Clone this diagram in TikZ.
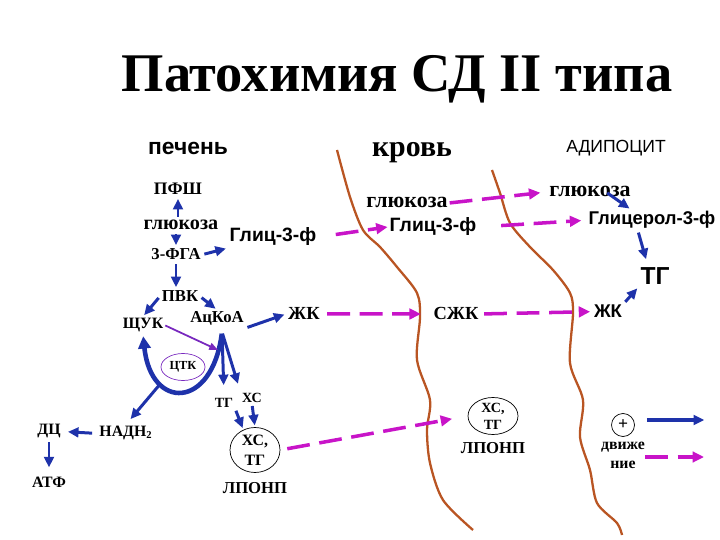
\documentclass[tikz,border=0pt]{standalone}
\usepackage{fontspec}
\setmainfont{Liberation Serif}
\setsansfont{Liberation Sans}
\usetikzlibrary{arrows.meta,positioning,shapes.geometric}

\definecolor{flowblue}{RGB}{30,50,170}
\definecolor{lipidpink}{RGB}{200,20,200}
\definecolor{wallbrown}{RGB}{185,85,35}
\definecolor{tcaviolet}{RGB}{120,40,190}

\begin{document}
\begin{tikzpicture}[
        x=0.02cm, y=-0.02cm,
        inner sep=1pt,
        heading/.style={anchor=base, font=\bfseries\fontsize{31}{36}\selectfont},
        organ/.style={anchor=base, font=\sffamily\bfseries\fontsize{13}{15}\selectfont},
        met/.style={anchor=base, font=\bfseries\fontsize{#1}{#1}\selectfont},
        metsans/.style={anchor=base, font=\sffamily\bfseries\fontsize{#1}{#1}\selectfont},
        lipo/.style={ellipse, draw, thin, align=center, inner sep=0pt},
        flow/.style={draw=flowblue, line width=1.7pt, -{Triangle[length=6pt,width=5.5pt]}, shorten >=1pt, shorten <=1pt},
        transport/.style={draw=lipidpink, line width=2pt, dash pattern=on 13pt off 5.5pt, -{Triangle[length=6.5pt,width=6pt]}},
        wall/.style={draw=wallbrown, line width=1.3pt}
    ]
    \useasboundingbox (0,0) rectangle (720,540);

    % Заголовок
    \node[heading] (title) at (397,92) {Патохимия СД II типа};

    % Ткани
    \node[organ] (liver) at (188,155) {печень};
    \node[met=17] (blood) at (412,157) {кровь};
    \node[anchor=base, font=\sffamily\fontsize{10}{12}\selectfont] (adipo) at (616,153) {АДИПОЦИТ};

    % Печень
    \node[met=10] (pfsh) at (178,195) {ПФШ};
    \node[met=11.5] (lglu) at (181,230) {глюкоза};
    \node[metsans=11] (lgliz) at (273,242) {Глиц-3-ф};
    \node[met=9.5] (fga) at (176,260) {3-ФГА};
    \node[met=9.5] (pvk) at (180,302) {ПВК};
    \node[met=9] (shuk) at (143,329) {ЩУК};
    \node[met=9.5] (acoa) at (217,323) {АцКоА};
    \node[met=10.5] (lfa) at (304,320) {ЖК};
    \node[ellipse, draw=tcaviolet, thin, minimum width=0.88cm, minimum height=0.54cm, inner sep=0pt, font=\bfseries\fontsize{7}{8}\selectfont] (tca) at (183,367) {ЦТК};
    \node[met=8] (ltg) at (224,407) {ТГ};
    \node[met=8] (lchol) at (252,402) {ХС};
    \node[lipo, minimum width=1cm, minimum height=0.9cm, font=\bfseries\fontsize{9}{11.5}\selectfont] (lvldl) at (255,450) {ХС,\\ТГ};
    \node[font=\bfseries\fontsize{9.5}{10}\selectfont, below=4pt of lvldl] (lvldlname) {ЛПОНП};
    \node[met=9] (nadh) at (126,437) {НАДН\textsubscript{2}};
    \node[met=9] (dc) at (49,435) {ДЦ};
    \node[met=9] (atp) at (49,487) {АТФ};

    % Кровь
    \node[met=12.5] (bglu) at (407,208) {глюкоза};
    \node[metsans=11] (bgliz) at (433,232) {Глиц-3-ф};
    \node[met=10.5] (nefa) at (456,320) {СЖК};
    \node[lipo, minimum width=1cm, minimum height=0.74cm, font=\bfseries\fontsize{8}{9.6}\selectfont] (bvldl) at (493,416) {ХС,\\ТГ};
    \node[font=\bfseries\fontsize{9.5}{10}\selectfont, below=3pt of bvldl] (bvldlname) {ЛПОНП};

    % Адипоцит
    \node[met=12.5] (aglu) at (590,197) {глюкоза};
    \node[metsans=10.5] (aglyc) at (652,225) {Глицерол-3-ф};
    \node[metsans=14] (atg) at (655,285) {ТГ};
    \node[metsans=10.5] (afa) at (608,318) {ЖК};

    % Легенда
    \node[circle, draw, thin, minimum size=0.46cm, inner sep=0pt, font=\bfseries\fontsize{10}{10}\selectfont] (plus) at (623,425) {+};
    \node[align=center, font=\bfseries\fontsize{9}{10.8}\selectfont, below=2pt of plus] (movelbl) {движе\\ние};
    \coordinate (keyflowA) at (645,420);
    \coordinate (keyflowB) at (706,420);
    \coordinate (keymoveA) at (645,457);
    \coordinate (keymoveB) at (704,457);

    % Мембраны
    \draw[wall] plot[smooth] coordinates {(337,150) (350,197) (363,230) (380,247) (397,267) (417,293) (420,317) (417,360) (430,400) (427,430) (430,463) (443,500) (473,530)};
    \draw[wall] plot[smooth] coordinates {(492,170) (500,193) (510,223) (530,247) (553,270) (570,293) (573,313) (570,363) (583,400) (580,437) (590,470) (597,503) (617,523) (622,535)};

    % Связи в печени
    \draw[flow] (lglu.north -| pfsh) -- (pfsh.south);
    \draw[flow] (lglu.south -| fga) -- (fga.north);
    \draw[flow] (fga.east) -- (lgliz.south west);
    \draw[flow] (fga.south) -- (fga.south |- pvk.north);
    \draw[flow] (pvk.west) -- (shuk.north);
    \draw[flow] (pvk.east) -- (acoa.north);
    \draw[flow] (acoa.south east) -- (lfa.west);
    \coordinate (fork) at (222,332);
    \coordinate (cyclejoin) at (218,350);
    \draw[flow, line width=2.6pt, -{Triangle[length=7pt,width=7pt]}] (fork) .. controls +(-10,78) and +(8,76) .. (shuk.south) coordinate[pos=0.7] (cyclelow);
    \draw[tcaviolet, line width=1pt, -{Triangle[length=5pt,width=4pt]}] (shuk.east) -- (cyclejoin);
    \draw[flow, shorten >=6pt] (fork) -- (ltg.north);
    \draw[flow, shorten >=4pt] (fork) -- (lchol.north west);
    \draw[flow] (ltg.south east) -- (lvldl.120);
    \draw[flow] (lchol.south) -- (lvldl.north);
    \draw[flow, shorten >=4pt] (cyclelow) -- (nadh.north);
    \draw[flow, shorten <=3pt, shorten >=3pt] (nadh.west) -- (dc.east);
    \draw[flow, shorten >=4pt] (dc.south) -- (atp.north);

    % Связи в адипоците
    \draw[flow] ([xshift=9pt]aglu.center) -- ([xshift=-12pt]aglyc.north);
    \draw[flow, shorten >=4pt] ([xshift=-8pt]aglyc.south) -- ([xshift=-4pt]atg.north);
    \draw[flow] (afa.north east) -- (atg.south west);

    % Транспорт через кровь
    \draw[transport, shorten <=10pt] (lgliz.east) -- (bgliz.west);
    \draw[transport, shorten >=4pt] (bglu.east) -- (aglu.west);
    \draw[transport, shorten <=13pt, shorten >=3pt] (bgliz.east) -- (aglyc.west);
    \draw[transport, shorten <=3pt, shorten >=6pt] (lfa.east) -- (nefa.west);
    \draw[transport, shorten <=2pt, shorten >=1pt] (nefa.east) -- (afa.west);
    \draw[transport, shorten <=4pt, shorten >=9pt] (lvldl.east) -- (bvldl.west);

    % Легенда: стрелки
    \draw[flow, line width=2.2pt] (keyflowA) -- (keyflowB);
    \draw[transport] (keymoveA) -- (keymoveB);

\end{tikzpicture}
\end{document}
